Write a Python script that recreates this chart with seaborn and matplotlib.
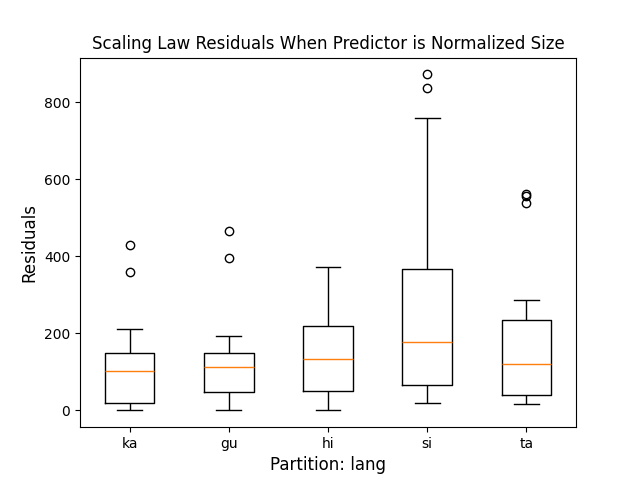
import matplotlib
matplotlib.use("Agg")
import matplotlib.pyplot as plt
import seaborn as sns
import pandas as pd

langs = ["ka", "gu", "hi", "si", "ta"]
ka = [0, 8, 12, 18, 45, 80, 101, 120, 135, 149, 211, 359, 429]
gu = [0, 20, 35, 47, 70, 95, 112, 125, 138, 149, 193, 395, 465]
hi = [0, 20, 35, 50, 80, 110, 134, 160, 190, 219, 260, 320, 372]
si = [19, 30, 50, 66, 100, 140, 177, 230, 300, 367, 760, 836, 872]
ta = [16, 20, 28, 33, 40, 60, 85, 105, 120, 150, 190, 215, 235, 287, 538, 557, 561]

values = {"ka": ka, "gu": gu, "hi": hi, "si": si, "ta": ta}
rows = [(lang, v) for lang in langs for v in values[lang]]
df = pd.DataFrame(rows, columns=["lang", "residual"])

fig, ax = plt.subplots(figsize=(6.4, 4.8), dpi=100)
sns.boxplot(
    data=df, x="lang", y="residual", order=langs, ax=ax,
    fill=False, color="black", width=0.5, linewidth=1,
    medianprops={"color": "#ff7f0e", "linewidth": 1},
    flierprops={"marker": "o", "markerfacecolor": "none",
                "markeredgecolor": "black", "markersize": 6},
)
ax.set_title("Scaling Law Residuals When Predictor is Normalized Size", fontsize=12)
ax.set_xlabel("Partition: lang", fontsize=12)
ax.set_ylabel("Residuals", fontsize=12)
ax.set_yticks([0, 200, 400, 600, 800])
fig.savefig("out.png", dpi=100)
